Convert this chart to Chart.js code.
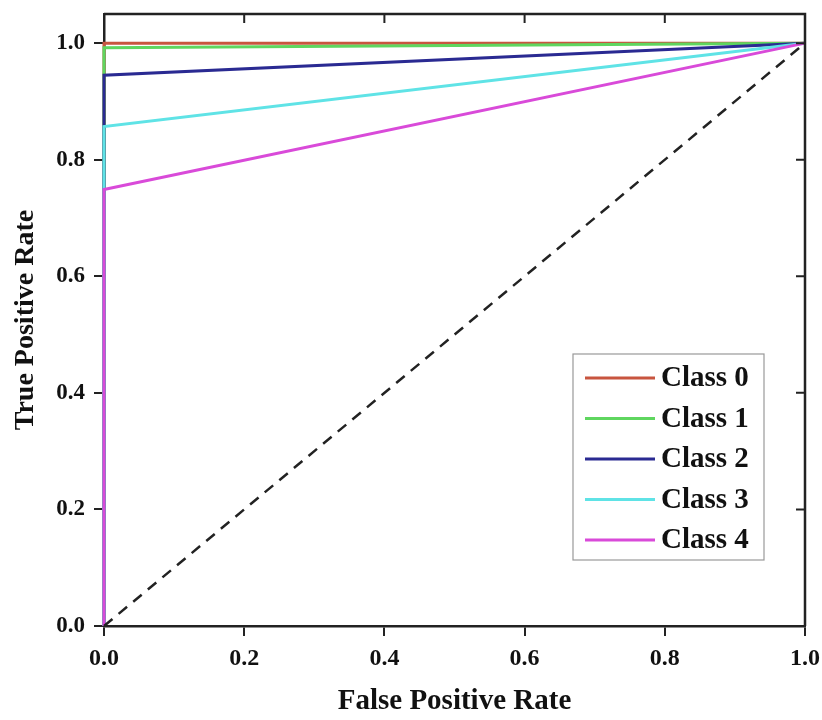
<!DOCTYPE html>
<html>
<head>
<meta charset="utf-8">
<script src="https://cdn.jsdelivr.net/npm/chart.js@4/dist/chart.umd.min.js"></script>
<style>
  html, body { margin: 0; padding: 0; background: #fff; }
  #wrap { width: 822px; height: 720px; }
</style>
</head>
<body>
<div id="wrap"><canvas id="roc"></canvas></div>
<script>
// ROC curve data (FPR, TPR) per class
const classLabels = ["Class 0", "Class 1", "Class 2", "Class 3", "Class 4"];
const classColors = ["#c8553f", "#5fd65f", "#2a2a92", "#5fe3e6", "#d94ad9"];
const fprPoints = [0, 0, 1];
const tprClass0 = [0, 1.0, 1];
const tprClass1 = [0, 0.992, 1];
const tprClass2 = [0, 0.945, 1];
const tprClass3 = [0, 0.857, 1];
const tprClass4 = [0, 0.749, 1];
const chanceX = [0, 1];
const chanceY = [0, 1];
const tickValues = [0, 0.2, 0.4, 0.6, 0.8, 1.0];

const tprSeries = [tprClass0, tprClass1, tprClass2, tprClass3, tprClass4];
const serif = "'Liberation Serif', 'Times New Roman', serif";

function toPoints(xs, ys) {
  return xs.map((x, i) => ({ x, y: ys[i] }));
}

// later classes drawn on top, like the source plot
const datasets = tprSeries.map((ys, i) => ({
  label: classLabels[i],
  data: toPoints(fprPoints, ys),
  borderColor: classColors[i],
  borderWidth: 3,
  pointRadius: 0,
  fill: false,
  clip: 4,
  order: tprSeries.length - i,
}));

datasets.push({
  label: "chance",
  data: toPoints(chanceX, chanceY),
  borderColor: "#222",
  borderWidth: 2.5,
  borderDash: [11, 8],
  pointRadius: 0,
  fill: false,
  clip: 4,
  order: 0,
});

// no extra label padding: the layout padding fixes the plot box
function noLabelPadding(s) {
  s.paddingTop = 0;
  s.paddingBottom = 0;
  s.paddingLeft = 0;
  s.paddingRight = 0;
}

// frame on top/right with inward ticks, and the boxed legend inside the plot
const framePlugin = {
  id: "frame",
  afterDatasetsDraw(chart) {
    const { ctx, chartArea: a, scales } = chart;
    ctx.save();
    ctx.strokeStyle = "#222";
    ctx.lineWidth = 2.5;
    ctx.beginPath();
    ctx.moveTo(a.left, a.top);
    ctx.lineTo(a.right, a.top);
    ctx.lineTo(a.right, a.bottom);
    ctx.stroke();
    ctx.lineWidth = 2;
    ctx.beginPath();
    for (const v of tickValues) {
      const px = scales.x.getPixelForValue(v);
      ctx.moveTo(px, a.top);
      ctx.lineTo(px, a.top + 9);
      const py = scales.y.getPixelForValue(v);
      ctx.moveTo(a.right, py);
      ctx.lineTo(a.right - 9, py);
    }
    ctx.stroke();

    // legend
    const bx = 573, by = 354, bw = 191, bh = 206;
    ctx.fillStyle = "#fff";
    ctx.fillRect(bx, by, bw, bh);
    ctx.strokeStyle = "#999";
    ctx.lineWidth = 1.2;
    ctx.strokeRect(bx, by, bw, bh);
    ctx.font = "bold 29px " + serif;
    ctx.textBaseline = "middle";
    ctx.fillStyle = "#111";
    chart.data.datasets.slice(0, classLabels.length).forEach((ds, i) => {
      const y = 378 + i * 40.5;
      ctx.strokeStyle = ds.borderColor;
      ctx.lineWidth = 3;
      ctx.beginPath();
      ctx.moveTo(585, y);
      ctx.lineTo(655, y);
      ctx.stroke();
      ctx.fillText(ds.label, 661, y + 1);
    });
    ctx.restore();
  },
};

new Chart(document.getElementById("roc"), {
  type: "line",
  data: { datasets },
  options: {
    responsive: true,
    maintainAspectRatio: false,
    animation: false,
    layout: { padding: { top: 14, right: 17, left: 0, bottom: 0 } },
    plugins: { legend: { display: false }, tooltip: { enabled: false } },
    scales: {
      x: {
        type: "linear",
        min: 0,
        max: 1,
        afterBuildTicks: (s) => { s.ticks = tickValues.map((v) => ({ value: v })); },
        afterFit: (s) => { s.height = 94; noLabelPadding(s); },
        border: { display: true, color: "#222", width: 2.5 },
        grid: { drawOnChartArea: false, drawTicks: true, tickLength: 10, color: "#222", lineWidth: 2 },
        ticks: {
          padding: 8,
          color: "#111",
          font: { family: serif, size: 24, weight: "bold" },
          callback: (v) => Number(v).toFixed(1),
          maxRotation: 0,
        },
        title: {
          display: true,
          text: "False Positive Rate",
          color: "#111",
          font: { family: serif, size: 29, weight: "bold" },
          padding: { top: 0, bottom: 1 },
        },
      },
      y: {
        type: "linear",
        min: 0,
        max: 1.05,
        afterBuildTicks: (s) => { s.ticks = tickValues.map((v) => ({ value: v })); },
        afterFit: (s) => { s.width = 104; noLabelPadding(s); },
        border: { display: true, color: "#222", width: 2.5 },
        grid: { drawOnChartArea: false, drawTicks: true, tickLength: 10, color: "#222", lineWidth: 2 },
        ticks: {
          padding: 9,
          color: "#111",
          font: { family: serif, size: 23, weight: "bold" },
          callback: (v) => Number(v).toFixed(1),
        },
        title: {
          display: true,
          text: "True Positive Rate",
          color: "#111",
          font: { family: serif, size: 28, weight: "bold" },
          padding: { top: 9, bottom: 0 },
        },
      },
    },
  },
  plugins: [framePlugin],
});
</script>
</body>
</html>
